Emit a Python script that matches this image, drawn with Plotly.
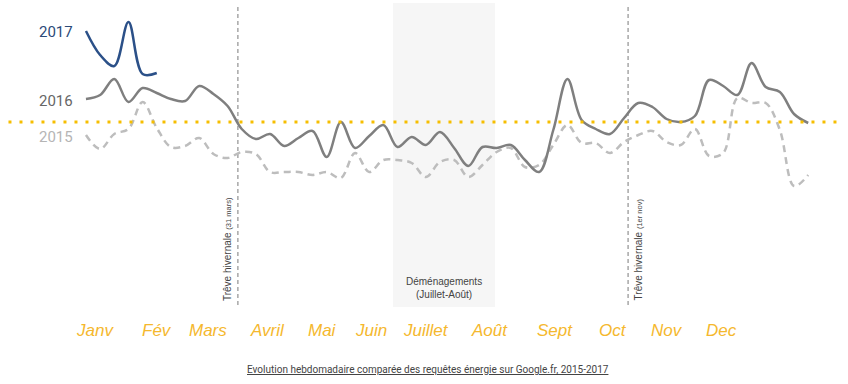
import plotly.graph_objects as go

weeks = list(range(52))

y2017 = [191, 167, 156, 200, 148, 149]
y2016 = [123, 127, 143, 120, 134, 129, 123, 121, 136, 128, 116, 93, 83, 88, 76, 84, 91, 65, 100, 74,
         86, 97, 75, 85, 77, 90, 74, 56, 75, 74, 77, 62, 50, 92, 143, 102, 93, 88, 104, 119,
         115, 103, 100, 106, 142, 136, 127, 159, 135, 130, 108, 99]
y2015 = [87, 73, 88, 93, 120, 94, 75, 76, 84, 68, 64, 70, 68, 50, 50, 50, 47, 50, 44, 69,
         50, 62, 62, 59, 45, 60, 62, 45, 57, 70, 74, 55, 57, 77, 97, 79, 79, 69, 80, 87,
         91, 80, 77, 93, 66, 69, 124, 119, 119, 92, 36, 47]
reference_level = 100

months = ["Janv", "Fév", "Mars", "Avril", "Mai", "Juin", "Juillet", "Août", "Sept", "Oct", "Nov", "Dec"]
month_pos = [0.64, 5.0, 8.6, 12.85, 16.67, 20.1, 24.0, 28.5, 33.1, 37.2, 41.0, 44.85]

treve_weeks = [10.73, 38.28]
treve_labels = ["Trêve hivernale <span style='font-size:7.5px'>(31 mars)</span>",
                "Trêve hivernale <span style='font-size:7.5px'>(1er nov)</span>"]
demenagement_span = [21.68, 28.88]

fig = go.Figure()

fig.add_shape(type="rect", x0=demenagement_span[0], x1=demenagement_span[1], y0=-85, y1=219,
              fillcolor="#f6f6f6", line_width=0, layer="below")

for xv in treve_weeks:
    fig.add_shape(type="line", x0=xv, x1=xv, y0=-83, y1=218,
                  line=dict(color="#7a7a7a", width=1, dash="4px,3px"), layer="below")

fig.add_shape(type="line", xref="paper", x0=0.01, x1=0.995, y0=reference_level, y1=reference_level,
              line=dict(color="#F6BE00", width=3, dash="3px,8px"))

fig.add_trace(go.Scatter(x=weeks[:len(y2015)], y=y2015, mode="lines",
                         line=dict(color="#bdbdbd", width=2.5, dash="7px,5px", shape="spline", smoothing=1.0)))
fig.add_trace(go.Scatter(x=weeks[:len(y2016)], y=y2016, mode="lines",
                         line=dict(color="#7f7f7f", width=2.5, shape="spline", smoothing=1.0)))
fig.add_trace(go.Scatter(x=weeks[:len(y2017)], y=y2017, mode="lines",
                         line=dict(color="#2b5088", width=2.5, shape="spline", smoothing=1.0)))

year_style = [("2017", y2017[0] - 1, "#2b4a78"), ("2016", y2016[0] - 2, "#666666"), ("2015", y2015[0] - 2, "#b5b5b5")]
for label, yv, col in year_style:
    fig.add_annotation(x=-0.8, y=yv, text=label,
                       showarrow=False, xanchor="right", yanchor="middle",
                       font=dict(family="Roboto", size=15, color=col))

for m, p in zip(months, month_pos):
    fig.add_annotation(x=p, y=-108, text="<i>" + m + "</i>", showarrow=False,
                       xanchor="center", yanchor="middle",
                       font=dict(family="Liberation Sans", size=17, color="#F5B82E"))

for xv, lab in zip(treve_weeks, treve_labels):
    fig.add_annotation(x=xv - 0.77 + (0.0 if xv < 20 else 1.5), y=-27, text=lab, textangle=-90,
                       showarrow=False, xanchor="center", yanchor="middle",
                       font=dict(family="Liberation Sans", size=10, color="#444444"))

fig.add_annotation(x=sum(demenagement_span) / 2, y=-66, text="Déménagements<br>(Juillet-Août)",
                   showarrow=False, xanchor="center", yanchor="middle",
                   font=dict(family="Liberation Sans", size=10, color="#444444"))

fig.add_annotation(xref="paper", x=0.505, y=-147,
                   text="<u>Evolution hebdomadaire comparée des requêtes énergie sur Google.fr, 2015-2017</u>",
                   showarrow=False, xanchor="center", yanchor="middle",
                   font=dict(family="Roboto", size=10, color="#444444"))

fig.update_layout(
    width=848, height=384, autosize=False,
    margin=dict(l=0, r=0, t=0, b=0),
    paper_bgcolor="white", plot_bgcolor="white",
    showlegend=False,
    xaxis=dict(range=[-6.07, 53.81], visible=False, fixedrange=True),
    yaxis=dict(range=[-162, 222], visible=False, fixedrange=True),
)

fig.write_html("out.html", config={"displayModeBar": False},
               post_script="document.body.style.margin='0';")
